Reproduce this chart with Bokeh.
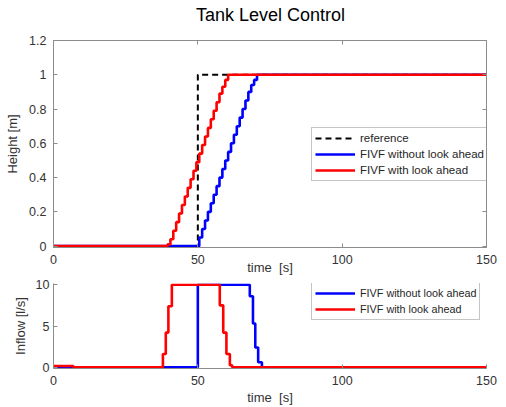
from bokeh.plotting import figure
from bokeh.layouts import column
from bokeh.models import (Range1d, LinearAxis, Legend, LegendItem, FixedTicker, Div,
                          NumeralTickFormatter, CustomLabelingPolicy)
from bokeh.embed import file_html
from bokeh.resources import INLINE

# ---------------- data ----------------
title_text = "Tank Level Control"
x_ticks = [0, 50, 100, 150]
h_ticks = [0, 0.2, 0.4, 0.6, 0.8, 1.0, 1.2]
q_ticks = [0, 5, 10]

# reference height [m]
ref_t = [0, 50, 150]
ref_h = [0, 1, 1]

# height, FIVF without look ahead
blue_h_t = [0, 50.5, 51.5, 52.5, 53.5, 54.5, 55.5, 56.5, 57.5, 58.5, 59.5, 60.5,
            61.5, 62.5, 63.5, 64.5, 65.5, 66.5, 67.5, 68.5, 69.5, 70.5, 150]
blue_h = [0, 0.05, 0.10, 0.15, 0.20, 0.25, 0.30, 0.35, 0.40, 0.45, 0.50, 0.55,
          0.60, 0.65, 0.70, 0.75, 0.80, 0.85, 0.90, 0.94, 0.97, 1.0, 1.0]

# height, FIVF with look ahead
red_h_t = [0, 39.5, 40.5, 41.5, 42.5, 43.5, 44.5, 45.5, 46.5, 47.5, 48.5, 49.5,
           50.5, 51.5, 52.5, 53.5, 54.5, 55.5, 56.5, 57.5, 58.5, 59.5, 60.5, 150]
red_h = [0, 0.01, 0.04, 0.09, 0.14, 0.19, 0.24, 0.29, 0.34, 0.39, 0.44, 0.49,
         0.54, 0.59, 0.64, 0.69, 0.74, 0.79, 0.84, 0.89, 0.93, 0.97, 1.0, 1.0]

# inflow [l/s], FIVF without look ahead
blue_q_t = [0, 50, 68, 69.1, 69.9, 70.9, 72.2, 150]
blue_q = [0, 10, 8.6, 5.3, 2.4, 0.6, 0, 0]

# inflow [l/s], FIVF with look ahead
red_q_t = [0, 6.9, 37.9, 38.9, 39.8, 41.0, 57.6, 58.8, 59.9, 61.1, 61.9, 150]
red_q = [0.15, 0, 1.6, 4.2, 7.4, 10, 7.5, 4.2, 1.6, 0.25, 0, 0]

# ---------------- style ----------------
FONT = "Liberation Sans"
AX = "#8c8c8c"
LBL = "#333333"
BLUE = "#0000ff"
RED = "#ff0000"
XLABEL = "time\u00a0 [s]"

W = 506
LEFT, RIGHT = 53, 18
FRAME_W = W - LEFT - RIGHT
TITLE_H = 28
TOP1, FRAME1_H, BOT1 = 38 - TITLE_H, 209, 32


def style_axis(ax, ticks, fmt=None):
    ax.ticker = FixedTicker(ticks=ticks)
    ax.major_tick_in = 4
    ax.major_tick_out = 0
    ax.minor_tick_line_color = None
    ax.axis_line_color = AX
    ax.major_tick_line_color = AX
    ax.major_label_text_font = FONT
    ax.major_label_text_font_size = "12.5px"
    ax.major_label_text_color = LBL
    ax.axis_label_text_font = FONT
    ax.axis_label_text_font_size = "13px"
    ax.axis_label_text_font_style = "normal"
    ax.axis_label_text_color = LBL
    if fmt is not None:
        ax.formatter = fmt


def tick_only_axis(ticks):
    ax = LinearAxis()
    style_axis(ax, ticks)
    ax.major_label_policy = CustomLabelingPolicy(code="return new Set()")
    ax.major_label_standoff = 0
    ax.axis_label_standoff = 0
    return ax


# ---------------- title ----------------
title_div = Div(text=title_text, width=FRAME_W, height=TITLE_H, margin=(0, RIGHT, 0, LEFT),
                styles={"font-family": FONT, "font-size": "18px", "color": "#000000",
                        "text-align": "center", "line-height": "30px"})

# ---------------- top figure ----------------
p1 = figure(width=W, height=TOP1 + FRAME1_H + BOT1, x_range=Range1d(0, 150),
            y_range=Range1d(-0.008, 1.2),
            output_backend="svg", toolbar_location=None,
            min_border_left=LEFT, min_border_right=RIGHT, min_border_top=TOP1,
            min_border_bottom=BOT1)
p1.xgrid.visible = False
p1.ygrid.visible = False
p1.outline_line_color = AX

style_axis(p1.xaxis[0], x_ticks)
style_axis(p1.yaxis[0], h_ticks, NumeralTickFormatter(format="0.[0]"))
p1.xaxis[0].axis_label = XLABEL
p1.yaxis[0].axis_label = "Height [m]"
p1.xaxis[0].major_label_standoff = 7
p1.xaxis[0].axis_label_standoff = -7
p1.yaxis[0].major_label_standoff = 7
p1.yaxis[0].axis_label_standoff = 6

p1.add_layout(tick_only_axis(x_ticks), "above")
p1.add_layout(tick_only_axis(h_ticks), "right")

r_ref = p1.step(ref_t, ref_h, mode="after", line_color="black", line_width=2, line_dash="6 4")
r_bh = p1.step(blue_h_t, blue_h, mode="after", line_color=BLUE, line_width=2.6)
r_rh = p1.step(red_h_t, red_h, mode="after", line_color=RED, line_width=2.6)

leg1 = Legend(items=[LegendItem(label="reference", renderers=[r_ref]),
                     LegendItem(label="FIVF without look ahead", renderers=[r_bh]),
                     LegendItem(label="FIVF with look ahead", renderers=[r_rh])],
              location=(258, 66))
p1.add_layout(leg1)

# ---------------- bottom figure ----------------
p2 = figure(width=W, height=128, x_range=Range1d(0, 150), y_range=Range1d(-0.15, 10.15),
            output_backend="svg", toolbar_location=None,
            min_border_left=LEFT, min_border_right=RIGHT, min_border_top=4, min_border_bottom=39)
p2.xgrid.visible = False
p2.ygrid.visible = False
p2.outline_line_color = None
style_axis(p2.xaxis[0], x_ticks)
style_axis(p2.yaxis[0], q_ticks)
p2.xaxis[0].axis_label = XLABEL
p2.yaxis[0].axis_label = "Inflow [l/s]"
p2.xaxis[0].major_label_standoff = 7
p2.xaxis[0].axis_label_standoff = 2
p2.yaxis[0].major_label_standoff = 4
p2.yaxis[0].axis_label_standoff = 5

r_bq = p2.step(blue_q_t, blue_q, mode="after", line_color=BLUE, line_width=2.6)
r_rq = p2.step(red_q_t, red_q, mode="after", line_color=RED, line_width=2.6)

leg2 = Legend(items=[LegendItem(label="FIVF without look ahead", renderers=[r_bq]),
                     LegendItem(label="FIVF with look ahead", renderers=[r_rq])],
              location=(258, 48))
p2.add_layout(leg2)

for lg, fs in ((leg1, "11.5px"), (leg2, "10.8px")):
    lg.label_text_font = FONT
    lg.label_text_font_size = fs
    lg.label_text_color = "#262626"
    lg.glyph_width = 40
    lg.glyph_height = 14
    lg.label_height = 14
    lg.label_standoff = 5
    lg.spacing = 2
    lg.padding = 3
    lg.margin = 0
    lg.border_line_color = AX
    lg.border_line_width = 1
    lg.background_fill_alpha = 1

layout = column(title_div, p1, p2, spacing=0)

open("out.html", "w").write(file_html(layout, INLINE))
